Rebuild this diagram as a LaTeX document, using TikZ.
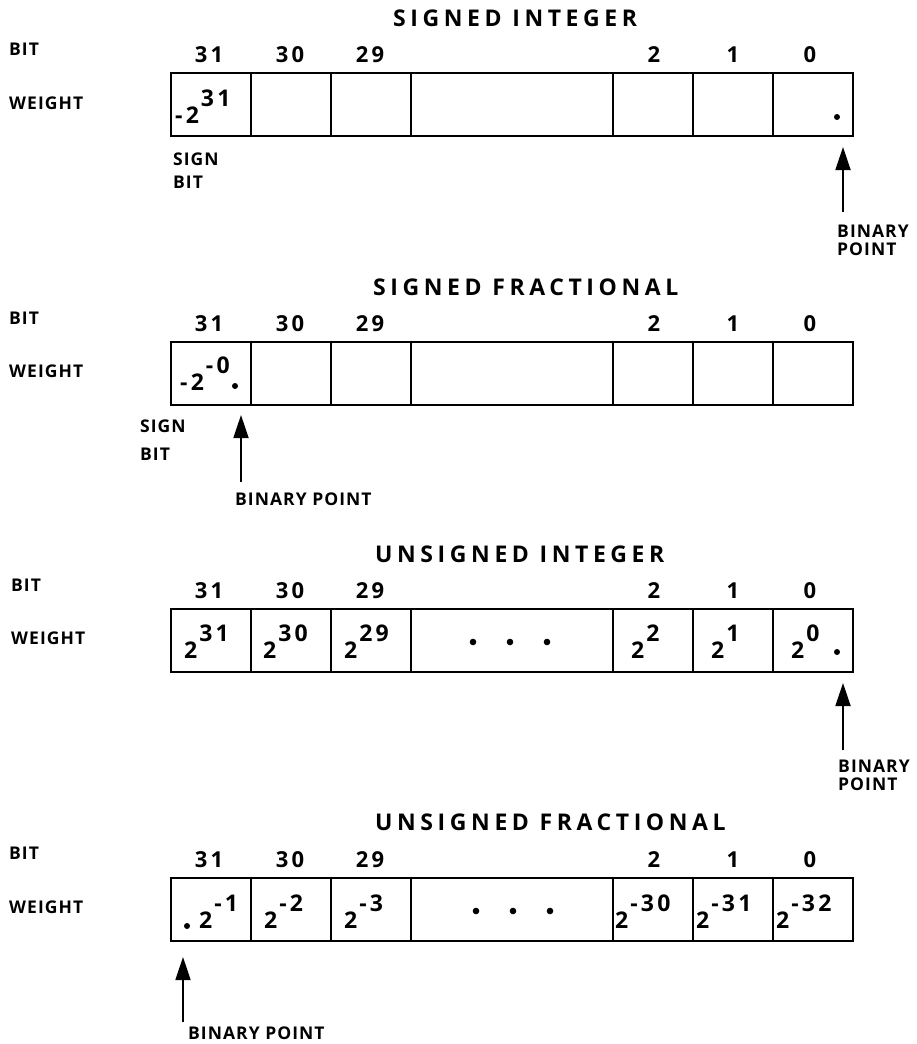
\documentclass[tikz,border=0pt]{standalone}
\usepackage{fontspec}
\setmainfont{Open Sans}
\usetikzlibrary{arrows.meta}
\newcommand{\wexp}[2]{#1\hspace{2pt}\raisebox{17pt}{#2}}

\begin{document}
\begin{tikzpicture}[x=1pt, y=-1pt,
    cell/.style={draw, line width=1.6pt, anchor=north west, minimum width=80pt,
                 minimum height=63pt, inner sep=0pt, outer sep=0pt},
    widecell/.style={cell, minimum width=202pt},
    title/.style={anchor=base west, inner sep=0pt,
                  font=\fontsize{23}{27}\selectfont\bfseries\addfontfeature{LetterSpace=20}},
    bitno/.style={anchor=base, inner sep=0pt,
                  font=\fontsize{22}{26}\selectfont\bfseries\addfontfeature{LetterSpace=14}},
    lbl/.style={anchor=base west, inner sep=0pt,
                font=\fontsize{17.5}{21}\selectfont\bfseries\addfontfeature{LetterSpace=6}},
    wt/.style={anchor=base west, inner sep=0pt,
               font=\fontsize{23}{27}\selectfont\bfseries\addfontfeature{LetterSpace=14}},
    ptr/.style={line width=1.8pt, -{Triangle[width=15pt,length=23pt]}},
]
\useasboundingbox (0,0) rectangle (916,1044);

% Signed integer
\node[title] (ttlA) at (393,27) {SIGNED INTEGER};
\node[lbl] (bitA) at (9,55)  {BIT};
\node[lbl] (wgtA) at (9,109) {WEIGHT};
\node[bitno] (nA31) at (209,62) {31};
\node[bitno] (nA30) at (290,62) {30};
\node[bitno] (nA29) at (370,62) {29};
\node[bitno] (nA2)  at (654,62) {2};
\node[bitno] (nA1)  at (733,62) {1};
\node[bitno] (nA0)  at (810,62) {0};
\node[cell]     (cA31) at (171,73) {};
\node[cell]     (cA30) at (251,73) {};
\node[cell]     (cA29) at (331,73) {};
\node[widecell] (cAm)  at (411,73) {};
\node[cell]     (cA2)  at (613,73) {};
\node[cell]     (cA1)  at (693,73) {};
\node[cell]     (cA0)  at (773,73) {};
\node[wt] (wA31) at (175,123) {\wexp{-2}{31}};
\fill (837,117) circle (3pt);
\node[lbl] (sgnA1) at (173,165) {SIGN};
\node[lbl] (sgnA2) at (173,188) {BIT};
\node[lbl] (bpA1) at (837,237) {BINARY};
\node[lbl] (bpA2) at (837,255) {POINT};
\coordinate (tailA) at (843,212);
\coordinate (tipA)  at (843,147);
\draw[ptr] (tailA) -- (tipA);

% Signed fractional
\node[title] (ttlB) at (373,295) {SIGNED FRACTIONAL};
\node[lbl] (bitB) at (9,324) {BIT};
\node[lbl] (wgtB) at (9,377) {WEIGHT};
\node[bitno] (nB31) at (209,331) {31};
\node[bitno] (nB30) at (290,331) {30};
\node[bitno] (nB29) at (370,331) {29};
\node[bitno] (nB2)  at (654,331) {2};
\node[bitno] (nB1)  at (733,331) {1};
\node[bitno] (nB0)  at (810,331) {0};
\node[cell]     (cB31) at (171,342) {};
\node[cell]     (cB30) at (251,342) {};
\node[cell]     (cB29) at (331,342) {};
\node[widecell] (cBm)  at (411,342) {};
\node[cell]     (cB2)  at (613,342) {};
\node[cell]     (cB1)  at (693,342) {};
\node[cell]     (cB0)  at (773,342) {};
\node[wt] (wB31) at (180,390) {\wexp{-2}{-0}};
\fill (235,386) circle (3pt);
\node[lbl] (sgnB1) at (140,432) {SIGN};
\node[lbl] (sgnB2) at (140,460) {BIT};
\node[lbl] (bpB) at (235,505) {BINARY POINT};
\coordinate (tailB) at (241,482);
\coordinate (tipB)  at (241,415);
\draw[ptr] (tailB) -- (tipB);

% Unsigned integer
\node[title] (ttlC) at (375,562) {UNSIGNED INTEGER};
\node[lbl] (bitC) at (11,591) {BIT};
\node[lbl] (wgtC) at (11,644) {WEIGHT};
\node[bitno] (nC31) at (209,598) {31};
\node[bitno] (nC30) at (290,598) {30};
\node[bitno] (nC29) at (370,598) {29};
\node[bitno] (nC2)  at (654,598) {2};
\node[bitno] (nC1)  at (733,598) {1};
\node[bitno] (nC0)  at (810,598) {0};
\node[cell]     (cC31) at (171,609) {};
\node[cell]     (cC30) at (251,609) {};
\node[cell]     (cC29) at (331,609) {};
\node[widecell] (cCm)  at (411,609) {};
\node[cell]     (cC2)  at (613,609) {};
\node[cell]     (cC1)  at (693,609) {};
\node[cell]     (cC0)  at (773,609) {};
\node[wt] (wC31) at (184,658) {\wexp{2}{31}};
\node[wt] (wC30) at (263,658) {\wexp{2}{30}};
\node[wt] (wC29) at (344,658) {\wexp{2}{29}};
\node[wt] (wC2)  at (631,658) {\wexp{2}{2}};
\node[wt] (wC1)  at (711,658) {\wexp{2}{1}};
\node[wt] (wC0)  at (791,658) {\wexp{2}{0}};
\fill (473,642) circle (3.3pt);
\fill (510,642) circle (3.3pt);
\fill (547,642) circle (3.3pt);
\fill (837,652) circle (3pt);
\node[lbl] (bpC1) at (838,772) {BINARY};
\node[lbl] (bpC2) at (838,790) {POINT};
\coordinate (tailC) at (843,750);
\coordinate (tipC)  at (843,683);
\draw[ptr] (tailC) -- (tipC);

% Unsigned fractional
\node[title] (ttlD) at (375,830) {UNSIGNED FRACTIONAL};
\node[lbl] (bitD) at (9,859) {BIT};
\node[lbl] (wgtD) at (9,913) {WEIGHT};
\node[bitno] (nD31) at (209,867) {31};
\node[bitno] (nD30) at (290,867) {30};
\node[bitno] (nD29) at (370,867) {29};
\node[bitno] (nD2)  at (654,867) {2};
\node[bitno] (nD1)  at (733,867) {1};
\node[bitno] (nD0)  at (810,867) {0};
\node[cell]     (cD31) at (171,878) {};
\node[cell]     (cD30) at (251,878) {};
\node[cell]     (cD29) at (331,878) {};
\node[widecell] (cDm)  at (411,878) {};
\node[cell]     (cD2)  at (613,878) {};
\node[cell]     (cD1)  at (693,878) {};
\node[cell]     (cD0)  at (773,878) {};
\fill (187,926) circle (3pt);
\node[wt] (wD31) at (199,928) {\wexp{2}{-1}};
\node[wt] (wD30) at (264,928) {\wexp{2}{-2}};
\node[wt] (wD29) at (344,928) {\wexp{2}{-3}};
\node[wt] (wD2)  at (615,928) {\wexp{2}{-30}};
\node[wt] (wD1)  at (696,928) {\wexp{2}{-31}};
\node[wt] (wD0)  at (776,928) {\wexp{2}{-32}};
\fill (476,911) circle (3.3pt);
\fill (513,911) circle (3.3pt);
\fill (550,911) circle (3.3pt);
\node[lbl] (bpD) at (188,1039) {BINARY POINT};
\coordinate (tailD) at (183,1022);
\coordinate (tipD)  at (183,957);
\draw[ptr] (tailD) -- (tipD);

\end{tikzpicture}
\end{document}
